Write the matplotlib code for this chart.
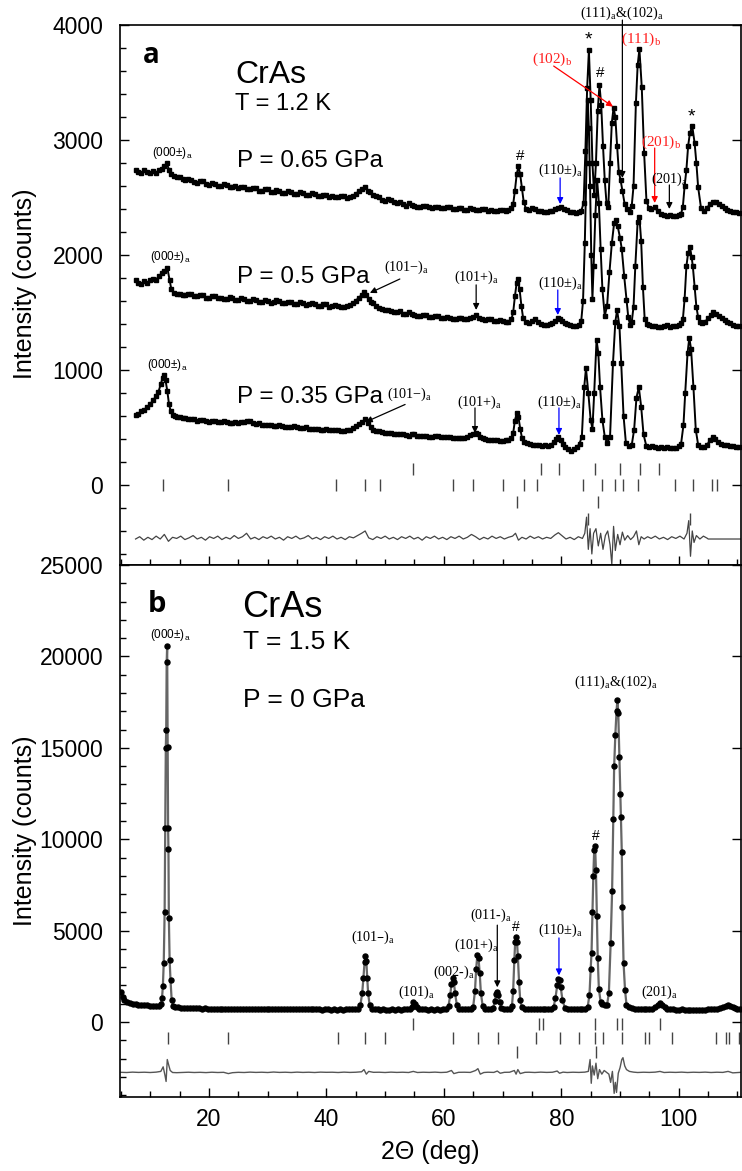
import numpy as np
import matplotlib.pyplot as plt
from matplotlib.ticker import MultipleLocator

plt.rcParams['font.family'] = ['Liberation Sans', 'DejaVu Sans']

# ---- panel a: observed patterns (2theta, counts), offset as in the figure ----
p065 = [(7.5,2740),(8.0,2725),(8.5,2715),(9.0,2735),(9.5,2720),(10.0,2710),(10.5,2730),(11.0,2715),(11.5,2740),(12.0,2750),(12.4,2770),(12.8,2800),(13.2,2740),(13.6,2700),(14.0,2690),(14.5,2675),(15,2680),(15.5,2660),(16,2650),(16.5,2665),(17,2655),(17.5,2635),(18,2630),(18.5,2645),(19,2640),(19.5,2620),(20,2610),(20.5,2625),(21,2620),(21.5,2600),(22,2600),(22.5,2615),(23,2605),(23.5,2590),(24,2590),(24.5,2600),(25,2580),(25.5,2595),(26,2590),(26.5,2570),(27,2570),(27.5,2585),(28,2580),(28.5,2560),(29,2560),(29.5,2575),(30,2570),(30.5,2550),(31,2550),(31.5,2565),(32,2560),(32.5,2540),(33,2540),(33.5,2555),(34,2550),(34.5,2530),(35,2530),(35.5,2545),(36,2540),(36.5,2520),(37,2520),(37.5,2535),(38,2530),(38.5,2510),(39,2510),(39.5,2525),(40,2520),(40.5,2505),(41,2510),(41.5,2500),(42,2500),(42.5,2515),(43,2510),(43.5,2495),(44,2500),(44.5,2515),(45,2530),(45.5,2555),(46,2570),(46.5,2590),(47,2560),(47.5,2545),(48,2520),(48.5,2515),(49,2500),(49.5,2480),(50,2470),(50.5,2485),(51,2480),(51.5,2460),(52,2450),(52.5,2460),(53,2440),(53.5,2430),(54,2450),(54.5,2435),(55,2430),(55.5,2420),(56,2420),(56.5,2430),(57,2430),(57.5,2415),(58,2410),(58.5,2420),(59,2420),(59.5,2405),(60,2405),(60.5,2415),(61,2415),(61.5,2400),(62,2400),(62.5,2410),(63,2410),(63.5,2395),(64,2395),(64.5,2405),(65,2400),(65.5,2390),(66,2390),(66.5,2400),(67,2400),(67.5,2385),(68,2390),(68.5,2380),(69,2385),(69.5,2395),(70,2395),(70.5,2385),(71,2390),(71.5,2410),(71.8,2440),(72.1,2560),(72.4,2700),(72.7,2770),(73.0,2700),(73.3,2580),(73.6,2460),(74.0,2400),(74.5,2390),(75.0,2405),(75.5,2400),(76.0,2385),(76.5,2380),(77.0,2375),(77.5,2370),(78.0,2385),(78.5,2380),(79.0,2400),(79.5,2410),(80.0,2420),(80.5,2400),(81.0,2390),(81.5,2375),(82.0,2370),(82.5,2365),(83.0,2375),(83.4,2385),(83.8,2450),(84.1,2900),(84.4,3450),(84.7,3780),(85.0,3350),(85.3,2800),(85.6,2520),(85.9,2800),(86.2,3250),(86.5,3480),(86.8,3300),(87.1,2950),(87.4,2650),(87.7,2450),(88.0,2420),(88.3,2800),(88.6,3150),(88.9,3280),(89.2,3200),(89.5,2950),(89.8,2720),(90.1,2650),(90.4,2560),(90.8,2440),(91.2,2400),(91.7,2375),(92.0,2430),(92.3,2600),(92.7,3320),(93.0,3650),(93.3,3790),(93.7,3460),(94.1,2890),(94.5,2470),(94.9,2410),(95.3,2400),(95.9,2415),(96.4,2380),(97.0,2355),(97.5,2345),(98.0,2340),(98.5,2350),(99.0,2340),(99.5,2335),(100.0,2345),(100.4,2360),(100.7,2420),(101.0,2600),(101.3,2740),(101.6,2950),(101.9,3060),(102.3,3120),(102.7,2975),(103.0,2800),(103.3,2590),(103.8,2405),(104.3,2385),(104.8,2410),(105.3,2440),(105.8,2465),(106.3,2460),(106.8,2440),(107.3,2425),(107.8,2405),(108.3,2395),(108.8,2385),(109.3,2375),(109.8,2370),(110.3,2365)]

p050 = [(7.5,1780),(8.0,1760),(8.5,1745),(9.0,1770),(9.5,1760),(10.0,1780),(10.5,1795),(11.0,1785),(11.5,1820),(12.0,1840),(12.4,1860),(12.9,1890),(13.3,1780),(13.6,1700),(14.0,1670),(14.5,1665),(15,1660),(15.5,1650),(16,1650),(16.5,1665),(17,1660),(17.5,1640),(18,1640),(18.5,1655),(19,1650),(19.5,1630),(20,1630),(20.5,1645),(21,1645),(21.5,1625),(22,1630),(22.5,1620),(23,1620),(23.5,1635),(24,1630),(24.5,1610),(25,1610),(25.5,1625),(26,1620),(26.5,1600),(27,1600),(27.5,1615),(28,1610),(28.5,1595),(29,1595),(29.5,1605),(30,1600),(30.5,1585),(31,1590),(31.5,1605),(32,1600),(32.5,1580),(33,1585),(33.5,1595),(34,1590),(34.5,1570),(35,1575),(35.5,1590),(36,1585),(36.5,1565),(37,1570),(37.5,1580),(38,1575),(38.5,1555),(39,1560),(39.5,1575),(40,1570),(40.5,1550),(41,1555),(41.5,1565),(42,1560),(42.5,1545),(43,1550),(43.5,1555),(44,1565),(44.5,1580),(45,1600),(45.5,1630),(46,1650),(46.4,1680),(46.8,1650),(47.2,1620),(47.6,1590),(48,1580),(48.5,1560),(49,1540),(49.5,1530),(50,1520),(50.5,1525),(51,1510),(51.5,1500),(52,1500),(52.5,1510),(53,1490),(53.5,1485),(54,1500),(54.5,1490),(55,1480),(55.5,1470),(56,1470),(56.5,1480),(57,1480),(57.5,1465),(58,1460),(58.5,1470),(59,1470),(59.5,1455),(60,1450),(60.5,1460),(61,1455),(61.5,1445),(62,1445),(62.5,1455),(63,1450),(63.5,1440),(64,1440),(64.5,1450),(65,1460),(65.5,1480),(66,1455),(66.5,1440),(67,1435),(67.5,1445),(68,1440),(68.5,1425),(69,1425),(69.5,1435),(70,1430),(70.5,1420),(71,1420),(71.5,1440),(71.8,1500),(72.1,1640),(72.4,1760),(72.6,1790),(72.9,1700),(73.2,1560),(73.5,1450),(74.0,1415),(74.5,1410),(75.0,1425),(75.5,1440),(76.0,1420),(76.5,1400),(77.0,1395),(77.5,1390),(78.0,1400),(78.5,1410),(79.0,1430),(79.4,1450),(79.8,1445),(80.2,1430),(80.6,1410),(81.0,1400),(81.5,1390),(82.0,1380),(82.5,1385),(83.0,1390),(83.4,1430),(83.7,1600),(84.0,2100),(84.3,2800),(84.5,3350),(84.7,3100),(84.9,2600),(85.1,2000),(85.3,1620),(85.5,1900),(85.8,2350),(86.1,2650),(86.4,2450),(86.7,2050),(87.0,1700),(87.4,1470),(87.8,1560),(88.2,1850),(88.6,2100),(89.0,2280),(89.3,2300),(89.6,2250),(90.0,2150),(90.3,2050),(90.7,1820),(91.1,1610),(91.4,1460),(91.7,1395),(92.0,1420),(92.3,1550),(92.6,1900),(93.0,2290),(93.3,2330),(93.6,2120),(93.9,1720),(94.2,1440),(94.6,1400),(95.0,1390),(95.5,1385),(96.0,1380),(96.5,1375),(97.0,1370),(97.5,1380),(98.0,1390),(98.5,1375),(99.0,1380),(99.5,1385),(100.0,1390),(100.4,1410),(100.7,1440),(101.0,1620),(101.3,1900),(101.6,2020),(101.9,2070),(102.2,1980),(102.4,1900),(102.7,1720),(103.0,1550),(103.3,1460),(103.6,1420),(104.0,1410),(104.5,1420),(105.0,1450),(105.5,1480),(105.9,1500),(106.3,1490),(106.8,1470),(107.3,1450),(107.8,1435),(108.3,1420),(108.8,1405),(109.3,1395),(109.8,1385),(110.3,1380)]

p035 = [(7.5,610),(8.0,620),(8.5,640),(9.0,655),(9.5,680),(10.0,700),(10.5,740),(11.0,770),(11.4,810),(11.8,880),(12.1,930),(12.3,955),(12.6,910),(12.9,820),(13.2,700),(13.5,640),(13.8,610),(14.2,600),(14.6,595),(15,590),(15.5,585),(16,580),(16.5,575),(17,570),(17.5,575),(18,560),(18.5,565),(19,565),(19.5,555),(20,550),(20.5,560),(21,555),(21.5,545),(22,545),(22.5,555),(23,550),(23.5,540),(24,540),(24.5,550),(25,535),(25.5,545),(26,545),(26.5,555),(27,560),(27.5,540),(28,530),(28.5,535),(29,525),(29.5,520),(30,520),(30.5,525),(31,515),(31.5,510),(32,520),(32.5,510),(33,505),(33.5,500),(34,500),(34.5,510),(35,505),(35.5,495),(36,495),(36.5,500),(37,490),(37.5,485),(38,485),(38.5,490),(39,480),(39.5,480),(40,485),(40.5,475),(41,475),(41.5,480),(42,480),(42.5,470),(43,470),(43.5,475),(44,480),(44.5,495),(45,510),(45.5,530),(46,545),(46.6,570),(47.1,540),(47.6,505),(48,480),(48.5,470),(49,465),(49.5,460),(50,455),(50.5,450),(51,450),(51.5,445),(52,440),(52.5,445),(53,445),(53.5,435),(54,430),(54.5,440),(55,440),(55.5,430),(56,425),(56.5,430),(57,430),(57.5,420),(58,420),(58.5,425),(59,425),(59.5,415),(60,415),(60.5,420),(61,420),(61.5,410),(62,410),(62.5,405),(63,405),(63.5,410),(64,420),(64.5,435),(65,445),(65.4,455),(65.8,440),(66.2,420),(66.6,405),(67,400),(67.5,395),(68,395),(68.5,390),(69,390),(69.5,385),(70,385),(70.5,390),(71,390),(71.5,405),(71.8,450),(72.1,560),(72.4,625),(72.7,590),(73.0,490),(73.3,410),(73.7,375),(74.2,365),(74.7,360),(75.2,350),(75.7,345),(76.2,345),(76.7,340),(77.2,345),(77.7,340),(78.2,350),(78.7,370),(79.1,400),(79.5,415),(79.9,395),(80.3,360),(80.7,330),(81.2,310),(81.7,295),(82.2,310),(82.7,330),(83.1,360),(83.5,420),(83.9,850),(84.2,1015),(84.6,800),(85.0,565),(85.3,490),(85.6,800),(86.0,1260),(86.3,1150),(86.6,850),(87.0,565),(87.4,420),(87.8,365),(88.3,420),(88.8,1060),(89.2,1420),(89.5,1520),(89.9,1380),(90.2,1060),(90.6,600),(91.0,365),(91.5,335),(92.0,350),(92.4,480),(92.8,760),(93.2,850),(93.6,680),(94.0,440),(94.5,335),(95.0,330),(95.5,335),(96.0,330),(96.5,325),(97.0,330),(97.5,325),(98.0,330),(98.5,325),(99.0,320),(99.5,325),(100.0,335),(100.4,360),(100.8,520),(101.1,800),(101.5,1150),(101.8,1280),(102.1,1180),(102.5,850),(102.9,480),(103.3,350),(103.8,330),(104.3,330),(104.8,345),(105.3,390),(105.8,420),(106.2,400),(106.7,375),(107.2,360),(107.7,350),(108.2,345),(108.7,340),(109.2,335),(109.7,330),(110.3,330)]

diff_a = [(7.5,-470),(8.2,-450),(8.9,-480),(9.6,-455),(10.3,-475),(11.0,-445),(11.7,-470),(12.4,-430),(13.1,-490),(13.8,-455),(14.5,-465),(15.2,-445),(15.9,-475),(16.6,-460),(17.3,-440),(18.0,-470),(18.7,-455),(19.4,-480),(20.1,-450),(20.8,-465),(21.5,-445),(22.2,-475),(22.9,-455),(23.6,-470),(24.3,-440),(25.0,-465),(25.7,-450),(26.4,-420),(27.1,-470),(27.8,-455),(28.5,-475),(29.2,-450),(29.9,-465),(30.6,-445),(31.3,-470),(32.0,-455),(32.7,-480),(33.4,-450),(34.1,-465),(34.8,-445),(35.5,-470),(36.2,-460),(36.9,-440),(37.6,-470),(38.3,-455),(39.0,-475),(39.7,-450),(40.4,-465),(41.1,-445),(41.8,-470),(42.5,-455),(43.2,-475),(43.9,-450),(44.6,-460),(45.3,-440),(46.0,-420),(46.6,-400),(47.2,-460),(47.9,-475),(48.6,-450),(49.3,-465),(50.0,-445),(50.7,-470),(51.4,-455),(52.1,-475),(52.8,-450),(53.5,-465),(54.2,-445),(54.9,-470),(55.6,-455),(56.3,-480),(57.0,-450),(57.7,-465),(58.4,-445),(59.1,-470),(59.8,-455),(60.5,-475),(61.2,-450),(61.9,-465),(62.6,-445),(63.3,-470),(64.0,-455),(64.7,-430),(65.4,-450),(66.1,-475),(66.8,-455),(67.5,-470),(68.2,-445),(68.9,-465),(69.6,-450),(70.3,-470),(71.0,-455),(71.7,-445),(72.2,-420),(72.7,-480),(73.3,-455),(74.0,-470),(74.7,-445),(75.4,-465),(76.1,-450),(76.8,-470),(77.5,-455),(78.2,-465),(78.9,-435),(79.5,-415),(80.1,-440),(80.8,-470),(81.5,-455),(82.2,-475),(82.9,-450),(83.6,-465),(84.0,-420),(84.3,-280),(84.6,-560),(84.9,-380),(85.2,-600),(85.5,-420),(85.9,-380),(86.3,-530),(86.7,-420),(87.1,-560),(87.5,-440),(87.9,-400),(88.3,-520),(88.6,-690),(88.9,-360),(89.2,-570),(89.6,-430),(90.0,-520),(90.4,-410),(90.8,-480),(91.3,-440),(91.8,-475),(92.3,-450),(92.8,-400),(93.2,-520),(93.6,-450),(94.1,-470),(94.7,-450),(95.3,-465),(96.0,-445),(96.7,-470),(97.4,-455),(98.1,-475),(98.8,-450),(99.5,-465),(100.2,-445),(100.9,-470),(101.4,-420),(101.7,-310),(102.0,-620),(102.3,-400),(102.6,-500),(103.0,-440),(103.6,-470),(104.2,-445),(104.9,-465),(105.0,-470),(110.6,-470)]

# Bragg tick rows in panel a (2theta)
ticks_a1 = [54.8, 76.6, 79.6, 85.7, 90.0, 93.4, 96.7]
ticks_a2 = [12.1, 23.3, 41.7, 46.6, 49.1, 61.6, 65.0, 70.1, 73.6, 75.9, 83.7, 87.0, 89.1, 90.5, 93.1, 99.3, 102.4, 105.7, 106.5]
ticks_a3 = [72.4, 86.2]
ticks_a4 = [84.6, 101.9]

# ---- panel b: 0 GPa pattern ----
p000 = [(5.0,1650),(5.3,1350),(5.6,1200),(6.0,1100),(6.5,1030),(7.0,990),(7.5,970),(8.0,950),(8.5,935),(9.0,920),(9.5,905),(10.0,890),(10.5,880),(11.0,885),(11.5,900),(11.8,960),(12.0,1300),(12.15,1950),(12.3,3250),(12.45,6000),(12.55,10600),(12.65,15000),(12.72,16000),(12.8,19700),(12.88,20550),(12.96,15050),(13.04,10600),(13.1,9450),(13.17,5700),(13.3,3400),(13.45,2300),(13.65,1200),(13.9,900),(14.3,830),(14.8,800),(15.3,790),(15.8,775),(16.3,770),(16.8,760),(17.3,755),(17.8,750),(18.3,745),(18.8,740),(19.3,745),(19.8,740),(20.3,735),(20.8,730),(21.3,735),(21.8,725),(22.3,720),(22.8,725),(23.3,715),(23.8,720),(24.3,715),(24.8,720),(25.3,710),(25.8,715),(26.3,710),(26.8,715),(27.3,705),(27.8,710),(28.3,705),(28.8,710),(29.3,700),(29.8,705),(30.3,700),(30.8,710),(31.3,715),(31.8,720),(32.3,710),(32.8,700),(33.3,705),(33.8,700),(34.3,695),(34.8,700),(35.3,695),(35.8,700),(36.3,690),(36.8,695),(37.3,700),(37.8,690),(38.3,695),(38.8,690),(39.3,685),(39.8,690),(40.3,695),(40.8,685),(41.3,690),(41.8,685),(42.3,690),(42.8,685),(43.3,690),(43.8,695),(44.3,690),(44.8,700),(45.3,740),(45.8,950),(46.1,1600),(46.3,2400),(46.5,3300),(46.65,3600),(46.8,3350),(46.95,2400),(47.1,1600),(47.35,950),(47.7,740),(48.2,700),(48.7,690),(49.2,685),(49.7,690),(50.2,685),(50.7,680),(51.2,690),(51.7,685),(52.2,690),(52.7,685),(53.2,690),(53.7,700),(54.2,720),(54.5,850),(54.8,1100),(55.1,1000),(55.4,800),(55.8,710),(56.3,700),(56.8,690),(57.3,685),(57.8,690),(58.3,680),(58.8,690),(59.3,685),(59.8,700),(60.3,720),(60.8,900),(61.1,1500),(61.3,2100),(61.5,2400),(61.7,2200),(61.9,1600),(62.2,950),(62.6,740),(63.1,700),(63.6,700),(64.1,705),(64.6,720),(65.0,850),(65.3,1700),(65.5,2900),(65.7,3650),(65.9,3500),(66.1,2700),(66.3,1600),(66.6,900),(67.0,740),(67.5,710),(68.0,715),(68.4,780),(68.7,1150),(68.9,1550),(69.1,1650),(69.3,1500),(69.5,1100),(69.8,760),(70.3,710),(70.8,700),(71.3,710),(71.6,900),(71.8,1700),(72.0,3400),(72.15,4400),(72.3,4650),(72.45,4400),(72.6,3600),(72.8,2200),(73.0,1200),(73.3,800),(73.8,720),(74.3,700),(74.8,705),(75.3,695),(75.8,700),(76.3,695),(76.8,700),(77.3,690),(77.8,700),(78.3,720),(78.7,850),(79.0,1300),(79.3,2000),(79.5,2350),(79.7,2300),(79.9,1900),(80.2,1200),(80.6,780),(81.1,710),(81.6,700),(82.1,695),(82.6,700),(83.1,700),(83.6,710),(84.1,730),(84.5,850),(84.8,1500),(85.0,2900),(85.15,3800),(85.3,6000),(85.45,8000),(85.6,9400),(85.75,9630),(85.9,8300),(86.05,5800),(86.2,3500),(86.4,1800),(86.7,1100),(87.0,1000),(87.4,950),(87.8,950),(88.1,1600),(88.4,4300),(88.65,7160),(88.85,11100),(89.0,14000),(89.2,15700),(89.4,17000),(89.55,17600),(89.7,16900),(89.9,14500),(90.05,12500),(90.15,11200),(90.3,9300),(90.4,6300),(90.6,3240),(90.85,1760),(91.1,950),(91.5,800),(92.0,760),(92.5,740),(93.0,730),(93.5,720),(94.0,715),(94.5,710),(95.0,715),(95.5,730),(96.0,800),(96.4,950),(96.8,1050),(97.2,950),(97.6,800),(98.0,720),(98.5,700),(99.0,690),(99.5,685),(100.0,680),(100.5,690),(101.0,685),(101.5,680),(102.0,685),(102.5,675),(103.0,670),(103.5,680),(104.0,675),(104.5,685),(105.0,690),(105.5,690),(106.0,700),(106.5,720),(107.0,760),(107.5,830),(108.0,900),(108.4,940),(108.8,900),(109.2,820),(109.6,760),(110.0,730),(110.5,720)]

diff_b = [(5.0,-2750),(6,-2760),(7,-2740),(8,-2755),(9,-2745),(10,-2760),(11,-2740),(11.8,-2700),(12.2,-2450),(12.5,-2900),(12.7,-3250),(12.9,-2050),(13.1,-2300),(13.4,-2650),(13.8,-2760),(14.5,-2770),(15.5,-2760),(16.5,-2745),(17.5,-2760),(18.5,-2750),(19.5,-2765),(20.5,-2745),(21.5,-2760),(22.5,-2750),(23.3,-2820),(24,-2770),(25,-2750),(26,-2760),(27,-2740),(28,-2755),(29,-2745),(30,-2760),(31,-2735),(32,-2755),(33,-2745),(34,-2760),(35,-2740),(36,-2755),(37,-2745),(38,-2760),(39,-2740),(40,-2750),(41,-2745),(42,-2760),(43,-2740),(44,-2755),(45,-2745),(46,-2720),(46.4,-2600),(46.8,-2850),(47.2,-2700),(48,-2750),(49,-2745),(50,-2760),(51,-2740),(52,-2755),(53,-2745),(54,-2760),(54.8,-2700),(55.5,-2760),(56.5,-2745),(57.5,-2755),(58.5,-2740),(59.5,-2760),(60.5,-2745),(61.3,-2650),(61.7,-2820),(62.5,-2750),(63.5,-2745),(64.5,-2755),(65.4,-2650),(65.8,-2550),(66.2,-2850),(66.8,-2760),(67.5,-2745),(68.5,-2755),(69.1,-2680),(69.6,-2800),(70.3,-2750),(71.2,-2745),(72.0,-2650),(72.3,-2850),(72.6,-2600),(73.0,-2820),(73.8,-2750),(74.5,-2745),(75.5,-2760),(76.5,-2740),(77.5,-2755),(78.5,-2745),(79.3,-2680),(79.7,-2800),(80.3,-2740),(81,-2760),(82,-2745),(83,-2755),(84,-2740),(84.6,-2700),(84.9,-2050),(85.1,-3350),(85.3,-2400),(85.6,-2900),(85.9,-2250),(86.2,-3100),(86.5,-2600),(86.9,-2850),(87.3,-2650),(87.7,-2750),(88.1,-2850),(88.4,-3300),(88.7,-2700),(89.0,-3900),(89.2,-3300),(89.4,-3850),(89.7,-2800),(90.0,-2500),(90.3,-2050),(90.5,-1950),(90.8,-2400),(91.1,-2600),(91.6,-2700),(92.3,-2740),(93,-2760),(94,-2745),(95,-2755),(96,-2740),(96.8,-2700),(97.5,-2760),(98.5,-2745),(99.5,-2755),(100.5,-2740),(101.5,-2760),(102.5,-2745),(103.5,-2755),(104.5,-2740),(105.5,-2760),(106.5,-2745),(107.5,-2755),(108.4,-2700),(109.2,-2780),(110.6,-2750)]

ticks_b1 = [54.8, 76.2, 76.9, 85.7, 89.5, 90.4, 96.8]
ticks_b2 = [13.0, 23.2, 42.0, 46.6, 50.0, 61.5, 65.8, 69.3, 75.7, 79.8, 83.0, 85.7, 87.1, 90.4, 94.3, 94.9, 98.9, 106.3, 108.0, 108.5, 110.3]
ticks_b3 = [72.4, 85.9]

SUB = r'$_\mathregular{%s}$'
SERIF = ['Liberation Serif', 'DejaVu Serif']

fig = plt.figure(figsize=(7.42, 11.71), dpi=100)
ax_a = fig.add_axes([120/742, 1 - 565/1171, 621/742, 540/1171])
ax_b = fig.add_axes([120/742, 1 - 1097/1171, 621/742, 532/1171])


def unzip(pts):
    a = np.array(pts, dtype=float)
    return a[:, 0], a[:, 1]


def style_axis(ax, ymaj, ymin):
    ax.set_xlim(4.85, 110.6)
    ax.xaxis.set_major_locator(MultipleLocator(20))
    ax.xaxis.set_minor_locator(MultipleLocator(5))
    ax.yaxis.set_major_locator(MultipleLocator(ymaj))
    ax.yaxis.set_minor_locator(MultipleLocator(ymin))
    ax.tick_params(which='both', direction='in', width=1.0, labelsize=16.5)
    ax.tick_params(which='major', length=6.5, right=True, top=False, pad=12)
    ax.tick_params(which='minor', length=4.3, right=False, top=False)
    ax.tick_params(axis='x', pad=8)
    for s in ax.spines.values():
        s.set_linewidth(1.2)
    ax.set_ylabel('Intensity (counts)', fontsize=18)


def tickrow(ax, pos, level):
    ax.plot(pos, [level] * len(pos), ls='none', marker='|', ms=8, mew=1.0, color='#444444')


def lab(ax, x, y, s, size=10.2, color='k', family=None, **kw):
    ax.text(x, y, s, fontsize=size, color=color, ha='center', va='center',
            family=family or SERIF, clip_on=False, **kw)


def arrow(ax, tail, head, color='k', lw=0.9):
    ax.annotate('', xy=head, xytext=tail, annotation_clip=False,
                arrowprops=dict(arrowstyle='-|>', color=color, lw=lw,
                                mutation_scale=9, shrinkA=0, shrinkB=0))


# ---------- panel a ----------
for pts in (p065, p050, p035):
    x, y = unzip(pts)
    ax_a.plot(x, y, '-', color='k', lw=1.4, marker='s', ms=2.6, mfc='k', mec='k')
x, y = unzip(diff_a)
ax_a.plot(x, y, '-', color='#444444', lw=0.9)
tickrow(ax_a, ticks_a1, 140)
tickrow(ax_a, ticks_a2, 0)
tickrow(ax_a, ticks_a3, -150)
tickrow(ax_a, ticks_a4, -295)

ax_a.set_ylim(-696, 4000)
style_axis(ax_a, 1000, 200)
ax_a.tick_params(axis='x', labelbottom=False)
ax_a.yaxis.set_label_coords(-0.133, 0.52)

ax_a.text(8.76, 3670, 'a', fontsize=20, fontweight='bold', family=['Open Sans', 'DejaVu Sans'], va='baseline')
ax_a.text(24.43, 3496, 'CrAs', fontsize=23, va='baseline')
ax_a.text(24.43, 3261, 'T = 1.2 K', fontsize=17, va='baseline')
ax_a.text(24.77, 2765, 'P = 0.65 GPa', fontsize=17.5, va='baseline')
ax_a.text(24.77, 1757, 'P = 0.5 GPa', fontsize=17.5, va='baseline')
ax_a.text(24.77, 713, 'P = 0.35 GPa', fontsize=17.5, va='baseline')

sans = ['Liberation Sans', 'DejaVu Sans']
lab(ax_a, 13.7, 2887, '(000±)' + SUB % 'a', size=8.5, family=sans)
lab(ax_a, 13.4, 1983, '(000±)' + SUB % 'a', size=8.5, family=sans)
lab(ax_a, 12.9, 1043, '(000±)' + SUB % 'a', size=8.5, family=sans)

lab(ax_a, 53.7, 1896, '(101−)' + SUB % 'a')
arrow(ax_a, (52.5, 1791), (47.4, 1670))
lab(ax_a, 54.2, 790, '(101−)' + SUB % 'a')
arrow(ax_a, (53.4, 700), (46.7, 548))

lab(ax_a, 65.6, 1809, '(101+)' + SUB % 'a')
arrow(ax_a, (65.5, 1740), (65.5, 1522))
lab(ax_a, 66.1, 722, '(101+)' + SUB % 'a')
arrow(ax_a, (65.3, 670), (65.3, 452))

lab(ax_a, 79.8, 2739, '(110±)' + SUB % 'a')
arrow(ax_a, (79.8, 2670), (79.8, 2443), color='#0000ff')
lab(ax_a, 79.8, 1757, '(110±)' + SUB % 'a')
arrow(ax_a, (79.4, 1696), (79.4, 1478), color='#0000ff')
lab(ax_a, 79.6, 722, '(110±)' + SUB % 'a')
arrow(ax_a, (79.6, 670), (79.6, 435), color='#0000ff')

lab(ax_a, 90.3, 4104, '(111)' + SUB % 'a' + '&(102)' + SUB % 'a')
arrow(ax_a, (90.4, 4043), (90.4, 2670))
lab(ax_a, 78.4, 3704, '(102)' + SUB % 'b', size=11, color='#ff2020')
arrow(ax_a, (78.7, 3643), (88.8, 3290), color='#ff0000')
lab(ax_a, 93.5, 3878, '(111)' + SUB % 'b', size=11, color='#ff2020')
lab(ax_a, 97.0, 2983, '(201)' + SUB % 'b', size=11, color='#ff2020')
arrow(ax_a, (95.9, 2930), (95.9, 2452), color='#ff0000')
lab(ax_a, 98.5, 2661, '(201)' + SUB % 'a')
arrow(ax_a, (98.4, 2609), (98.4, 2400))

lab(ax_a, 84.7, 3870, '*', size=14, family=sans)
lab(ax_a, 86.6, 3583, '#', size=11, family=sans)
lab(ax_a, 73.0, 2861, '#', size=11, family=sans)
lab(ax_a, 102.2, 3200, '*', size=14, family=sans)

# ---------- panel b ----------
x, y = unzip(p000)
ax_b.plot(x, y, '-', color='#666666', lw=1.6, zorder=2)
ax_b.plot(x, y, ls='none', marker='o', ms=3.6, mfc='k', mec='k', zorder=3)
x, y = unzip(diff_b)
ax_b.plot(x, y, '-', color='#555555', lw=1.0)
tickrow(ax_b, ticks_b1, -100)
tickrow(ax_b, ticks_b2, -900)
tickrow(ax_b, ticks_b3, -1650)

ax_b.set_ylim(-4100, 25000)
style_axis(ax_b, 5000, 1000)
ax_b.yaxis.set_label_coords(-0.133, 0.5)
ax_b.set_xlabel('2Θ (deg)', fontsize=18)
ax_b.xaxis.set_label_coords(0.5, -0.081)

ax_b.text(9.6, 22430, 'b', fontsize=21, fontweight='bold', family=['Open Sans', 'DejaVu Sans'], va='baseline')
ax_b.text(25.6, 22150, 'CrAs', fontsize=26, va='baseline')
ax_b.text(25.8, 20400, 'T = 1.5 K', fontsize=19, va='baseline')
ax_b.text(25.8, 17230, 'P = 0 GPa', fontsize=19, va='baseline')

lab(ax_b, 13.4, 21170, '(000±)' + SUB % 'a', size=8.5, family=sans)
lab(ax_b, 89.3, 18600, '(111)' + SUB % 'a' + '&(102)' + SUB % 'a')
lab(ax_b, 85.9, 10170, '#', size=10, family=sans)
lab(ax_b, 47.9, 4650, '(101–)' + SUB % 'a')
lab(ax_b, 55.4, 1640, '(101)' + SUB % 'a')
lab(ax_b, 61.7, 2735, '(002-)' + SUB % 'a')
lab(ax_b, 65.5, 4210, '(101+)' + SUB % 'a')
lab(ax_b, 68.0, 5850, '(011-)' + SUB % 'a')
arrow(ax_b, (69.1, 5300), (69.1, 1900))
lab(ax_b, 72.2, 5210, '#', size=10, family=sans)
lab(ax_b, 79.8, 5030, '(110±)' + SUB % 'a')
arrow(ax_b, (79.6, 4600), (79.6, 2550), color='#0000ff')
lab(ax_b, 96.8, 1640, '(201)' + SUB % 'a')

fig.savefig('out.png', dpi=100)
